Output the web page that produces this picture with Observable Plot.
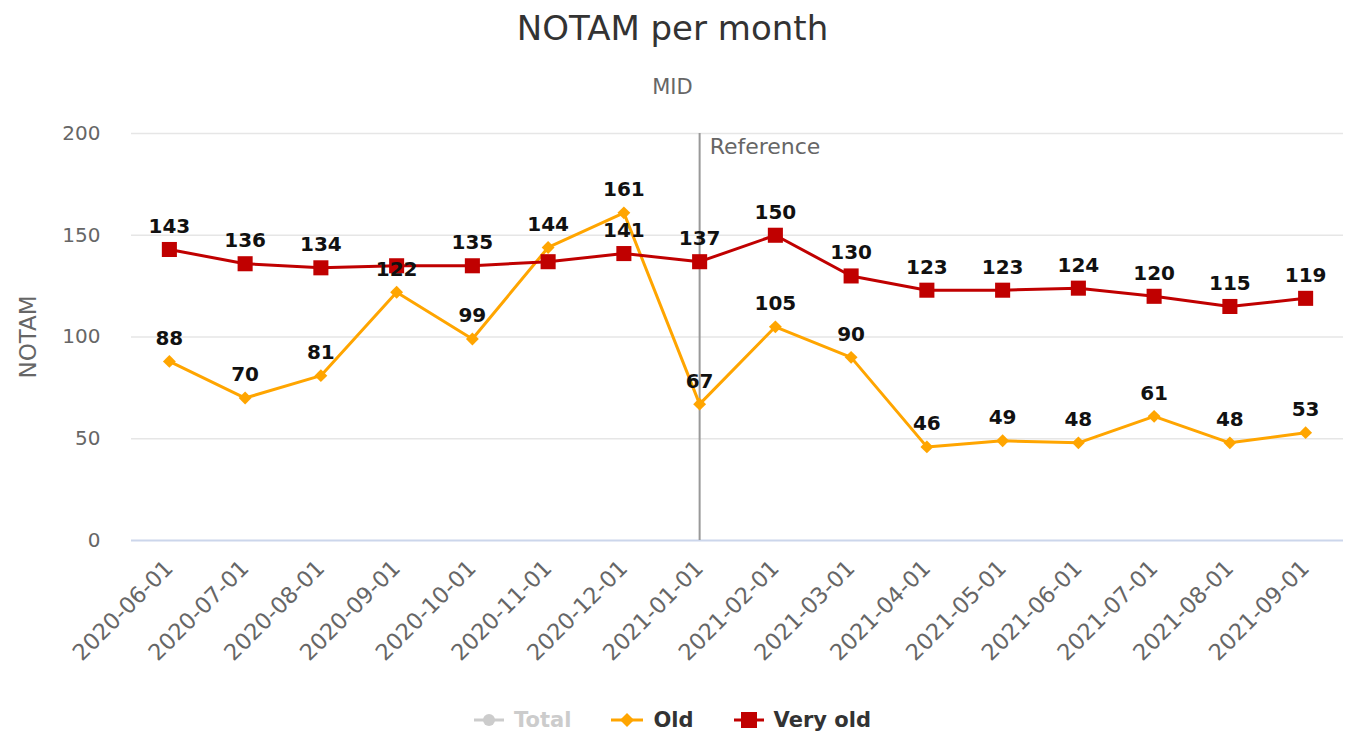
<!DOCTYPE html>
<html>
<head>
<meta charset="utf-8">
<script src="https://cdn.jsdelivr.net/npm/d3@7"></script>
<script src="https://cdn.jsdelivr.net/npm/@observablehq/plot@0.6"></script>
<style>
  body { margin: 0; background: #fff; font-family: "DejaVu Sans", sans-serif; }
  #wrap { position: relative; width: 1345px; height: 735px; overflow: hidden; }
  #title { position: absolute; top: 11px; left: 0; width: 1345px; text-align: center; font-size: 34px; line-height: 34px; color: #333; }
  #subtitle { position: absolute; top: 77px; left: 0; width: 1345px; text-align: center; font-size: 21px; line-height: 21px; color: #666; }
  #chart { position: absolute; top: 100px; left: 0; }
  #legend { position: absolute; top: 707px; left: 0; width: 1345px; display: flex; justify-content: center; align-items: center; gap: 40px; font-size: 21px; font-weight: bold; line-height: 26px; }
  .item { display: flex; align-items: center; gap: 10px; }
</style>
</head>
<body>
<div id="wrap">
  <div id="title">NOTAM per month</div>
  <div id="subtitle">MID</div>
  <div id="chart"></div>
  <div id="legend"></div>
</div>
<script>
// ---- Data ----
const months = ["2020-06-01","2020-07-01","2020-08-01","2020-09-01","2020-10-01","2020-11-01","2020-12-01","2021-01-01","2021-02-01","2021-03-01","2021-04-01","2021-05-01","2021-06-01","2021-07-01","2021-08-01","2021-09-01"];
const oldValues = [88,70,81,122,99,144,161,67,105,90,46,49,48,61,48,53];
const veryOldValues = [143,136,134,135,135,137,141,137,150,130,123,123,124,120,115,119];
const yTicks = [0,50,100,150,200];
const referenceMonth = "2021-01-01";
const referenceLabel = "Reference";
const hiddenVeryOldLabels = ["2020-09-01","2020-11-01"];
const seriesNames = ["Total","Old","Very old"];
const seriesColors = {"Total":"#cccccc","Old":"#ffa500","Very old":"#c00000"};

const oldRows = months.map((m,i)=>({month:m, value:oldValues[i]}));
const veryOldRows = months.map((m,i)=>({month:m, value:veryOldValues[i]}));

const chart = Plot.plot({
  width: 1345,
  height: 600,
  marginTop: 33,
  marginBottom: 160,
  marginLeft: 131,
  marginRight: 2,
  style: { fontFamily: "DejaVu Sans, sans-serif", background: "transparent" },
  x: { type: "point", domain: months, padding: 0.5, round: false },
  y: { domain: [0, 200] },
  marks: [
    Plot.ruleY(yTicks.filter(t => t > 0), { stroke: "#e6e6e6", strokeWidth: 1.5 }),
    Plot.ruleY([0], { stroke: "#ccd6eb", strokeWidth: 2 }),
    Plot.ruleX([referenceMonth], { stroke: "#999999", strokeWidth: 2 }),
    Plot.text([referenceLabel], { x: () => referenceMonth, y: () => 200, text: d => d, textAnchor: "start", lineAnchor: "middle", dx: 10, dy: 13, fontSize: 22, fill: "#666" }),
    Plot.axisY({ ticks: yTicks, tickSize: 0, tickPadding: 31, fontSize: 20, fill: "#666", label: null }),
    Plot.axisX({ tickRotate: -45, tickSize: 0, tickPadding: 24, fontSize: 22.5, fill: "#666", label: null }),
    Plot.text(["NOTAM"], { frameAnchor: "left", rotate: -90, dx: -103, text: d => d, fontSize: 23, fill: "#666", textAnchor: "middle", lineAnchor: "middle" }),
    Plot.line(oldRows, { x: "month", y: "value", stroke: seriesColors["Old"], strokeWidth: 3 }),
    Plot.dot(oldRows, { x: "month", y: "value", symbol: "diamond2", r: 5.8, fill: seriesColors["Old"] }),
    Plot.line(veryOldRows, { x: "month", y: "value", stroke: seriesColors["Very old"], strokeWidth: 3 }),
    Plot.dot(veryOldRows, { x: "month", y: "value", symbol: "square", r: 8.5, fill: seriesColors["Very old"] }),
    Plot.text(oldRows, { x: "month", y: "value", text: d => String(d.value), dy: -23, lineAnchor: "middle", fontSize: 20, fontWeight: "bold", fill: "#111" }),
    Plot.text(veryOldRows.filter(d => !hiddenVeryOldLabels.includes(d.month)), { x: "month", y: "value", text: d => String(d.value), dy: -23, lineAnchor: "middle", fontSize: 20, fontWeight: "bold", fill: "#111" })
  ]
});
document.getElementById("chart").appendChild(chart);

// ---- Legend ----
const legend = document.getElementById("legend");
const symbolSvg = {
  "Total": c => `<svg width="30" height="16"><line x1="0" y1="8" x2="30" y2="8" stroke="${c}" stroke-width="3"/><circle cx="15" cy="8" r="6" fill="${c}"/></svg>`,
  "Old": c => `<svg width="32" height="16"><line x1="0" y1="8" x2="32" y2="8" stroke="${c}" stroke-width="3"/><path d="M16 1 L23 8 L16 15 L9 8 Z" fill="${c}"/></svg>`,
  "Very old": c => `<svg width="30" height="18"><line x1="0" y1="9" x2="30" y2="9" stroke="${c}" stroke-width="3"/><rect x="7" y="1" width="16" height="16" fill="${c}"/></svg>`
};
seriesNames.forEach(name => {
  const el = document.createElement("div");
  el.className = "item";
  const textColor = name === "Total" ? "#cccccc" : "#333333";
  el.innerHTML = symbolSvg[name](seriesColors[name]) + `<span style="color:${textColor}">${name}</span>`;
  legend.appendChild(el);
});
</script>
</body>
</html>
